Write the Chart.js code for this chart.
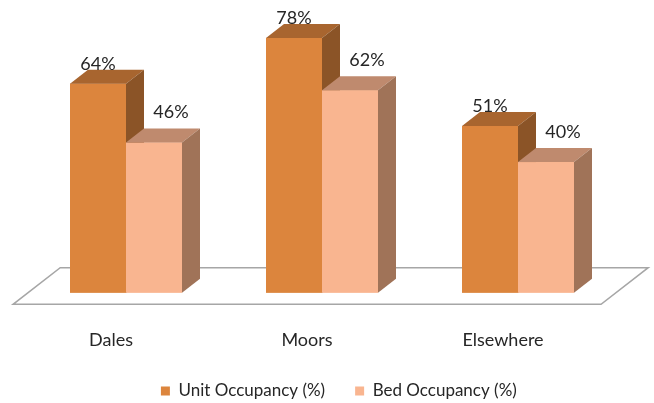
<!DOCTYPE html>
<html>
<head>
<meta charset="utf-8">
<script src="https://cdn.jsdelivr.net/npm/chart.js@4/dist/chart.umd.min.js"></script>
<style>
  html, body { margin: 0; padding: 0; background: #ffffff; }
  #wrap { width: 654px; height: 403px; position: relative; }
</style>
</head>
<body>
<div id="wrap"><canvas id="c"></canvas></div>
<script>
// ---- data ----
const categories = ['Dales', 'Moors', 'Elsewhere'];
const seriesNames = ['Unit Occupancy (%)', 'Bed Occupancy (%)'];
const unitOccupancy = [64, 78, 51];
const bedOccupancy = [46, 62, 40];

// ---- styles ----
const FRONT = ['#DC853D', '#F9B590'];
const TOP   = ['#A8652F', '#BF8A6E'];
const SIDE  = ['#8B5427', '#A07358'];
const DEPTH = { dx: 18, dy: -14 };      // bar depth
const FLOOR = { front: -0.83, back: 1.79 }; // floor extent in bar-depth units

const threeD = {
  id: 'threeD',
  beforeDatasetsDraw(chart) {
    const { ctx, chartArea } = chart;
    const y0 = chart.scales.y.getPixelForValue(0);
    const L = chartArea.left, R = chartArea.right;
    const f = FLOOR.front, b = FLOOR.back;
    ctx.save();
    ctx.beginPath();
    ctx.moveTo(L + f * DEPTH.dx, y0 + f * DEPTH.dy);
    ctx.lineTo(R + f * DEPTH.dx, y0 + f * DEPTH.dy);
    ctx.lineTo(R + b * DEPTH.dx, y0 + b * DEPTH.dy);
    ctx.lineTo(L + b * DEPTH.dx, y0 + b * DEPTH.dy);
    ctx.closePath();
    ctx.fillStyle = '#ffffff';
    ctx.fill();
    ctx.strokeStyle = '#A6A6A6';
    ctx.lineWidth = 1.5;
    ctx.stroke();
    ctx.restore();
  },
  afterDatasetsDraw(chart) {
    const { ctx } = chart;
    const n = chart.data.labels.length;
    const { dx, dy } = DEPTH;
    ctx.save();
    for (let i = 0; i < n; i++) {
      for (let d = 0; d < chart.data.datasets.length; d++) {
        const bar = chart.getDatasetMeta(d).data[i];
        const l = bar.x - bar.width / 2, r = bar.x + bar.width / 2;
        const t = bar.y, btm = bar.base;
        // front
        ctx.fillStyle = FRONT[d];
        ctx.fillRect(l, t, r - l, btm - t);
        // top
        ctx.beginPath();
        ctx.moveTo(l, t); ctx.lineTo(r, t); ctx.lineTo(r + dx, t + dy); ctx.lineTo(l + dx, t + dy);
        ctx.closePath();
        ctx.fillStyle = TOP[d];
        ctx.fill();
        // side
        ctx.beginPath();
        ctx.moveTo(r, t); ctx.lineTo(r + dx, t + dy); ctx.lineTo(r + dx, btm + dy); ctx.lineTo(r, btm);
        ctx.closePath();
        ctx.fillStyle = SIDE[d];
        ctx.fill();
      }
    }
    // value labels
    ctx.font = '18px Lato';
    ctx.fillStyle = '#262626';
    ctx.textAlign = 'center';
    ctx.textBaseline = 'alphabetic';
    for (let d = 0; d < chart.data.datasets.length; d++) {
      const meta = chart.getDatasetMeta(d);
      meta.data.forEach((bar, i) => {
        const v = chart.data.datasets[d].data[i];
        const x = bar.x + (d === 0 ? 0 : 17);
        const y = bar.y + dy - (d === 0 ? 0 : 10);
        ctx.fillText(v + '%', x, y);
      });
    }
    ctx.restore();
  }
};

new Chart(document.getElementById('c'), {
  type: 'bar',
  data: {
    labels: categories,
    datasets: [
      { label: seriesNames[0], data: unitOccupancy, backgroundColor: FRONT[0] },
      { label: seriesNames[1], data: bedOccupancy, backgroundColor: FRONT[1] }
    ]
  },
  options: {
    responsive: true,
    maintainAspectRatio: false,
    animation: false,
    datasets: { bar: { categoryPercentage: 0.5714, barPercentage: 1.0 } },
    layout: { padding: { top: 2, left: 28, right: 4.3, bottom: -6.5 } },
    font: { family: 'Lato' },
    scales: {
      x: {
        grid: { display: false },
        border: { display: false },
        ticks: { padding: 28.5, labelOffset: -15, color: '#262626', font: { family: 'Lato', size: 18 } },
        afterFit: (s) => { s.height = 59.8; }
      },
      y: {
        position: 'right',
        min: 0, max: 89,
        grid: { display: false },
        border: { display: false },
        ticks: { display: false },
        afterFit: (s) => { s.width = 33.7; }
      }
    },
    plugins: {
      tooltip: { enabled: false },
      legend: {
        position: 'bottom',
        align: 'center',
        labels: { boxWidth: 9, boxHeight: 9, padding: 30, color: '#262626', font: { family: 'Lato', size: 17 } }
      }
    }
  },
  plugins: [threeD]
});
</script>
</body>
</html>
